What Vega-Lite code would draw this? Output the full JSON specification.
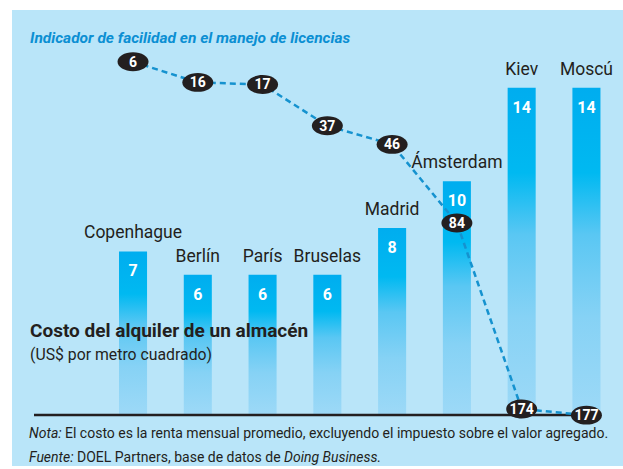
{
  "$schema": "https://vega.github.io/schema/vega-lite/v6.json",
  "autosize": "none",
  "width": 611,
  "height": 456,
  "padding": {"left": 12, "top": 10, "right": 0, "bottom": 3},
  "background": "white",
  "view": {"fill": "#b9e5f9", "stroke": null},
  "config": {"font": "Roboto"},
  "title": {
    "text": "Indicador de facilidad en el manejo de licencias",
    "anchor": "start",
    "frame": "group",
    "offset": -48.5,
    "dx": 18,
    "fontSize": 15.5,
    "fontStyle": "italic",
    "fontWeight": "bold",
    "color": "#0b8fd3",
    "baseline": "alphabetic"
  },
  "datasets": {
    "ciudades": [
      {"ciudad": "Copenhague", "costo": 7, "ranking": 6},
      {"ciudad": "Berlín", "costo": 6, "ranking": 16},
      {"ciudad": "París", "costo": 6, "ranking": 17},
      {"ciudad": "Bruselas", "costo": 6, "ranking": 37},
      {"ciudad": "Madrid", "costo": 8, "ranking": 46},
      {"ciudad": "Ámsterdam", "costo": 10, "ranking": 84},
      {"ciudad": "Kiev", "costo": 14, "ranking": 174},
      {"ciudad": "Moscú", "costo": 14, "ranking": 177}
    ]
  },
  "data": {"name": "ciudades"},
  "encoding": {
    "x": {
      "field": "ciudad",
      "type": "nominal",
      "sort": null,
      "scale": {"paddingInner": 0.567, "paddingOuter": 1.012, "align": 0.826},
      "axis": null
    }
  },
  "layer": [
    {
      "encoding": {
        "y": {
          "field": "costo",
          "type": "quantitative",
          "scale": {"domain": [-2.182, 17.33], "nice": false, "zero": false},
          "axis": null
        }
      },
      "layer": [
        {
          "mark": {
            "type": "bar",
            "color": {
              "gradient": "linear",
              "x1": 0, "y1": 0, "x2": 0, "y2": 1,
              "stops": [
                {"offset": 0, "color": "#00adef"},
                {"offset": 0.26, "color": "#00b9f1"},
                {"offset": 0.45, "color": "#5ac7f3"},
                {"offset": 0.7, "color": "#86d2f5"},
                {"offset": 1, "color": "#9dd9f7"}
              ]
            }
          },
          "encoding": {"y2": {"datum": 0}}
        },
        {
          "mark": {"type": "text", "baseline": "alphabetic", "dy": -13, "fontSize": 17.5, "color": "#231f20"},
          "encoding": {"text": {"field": "ciudad"}}
        },
        {
          "mark": {"type": "text", "baseline": "alphabetic", "dy": 25, "fontSize": 16, "fontWeight": "bold", "color": "white"},
          "encoding": {"text": {"field": "costo"}}
        },
        {
          "transform": [{"filter": "datum.ciudad === 'Copenhague'"}],
          "layer": [
            {
              "mark": {"type": "rule", "xOffset": 22, "x2Offset": -23, "strokeWidth": 2.5, "color": "#231f20"},
              "encoding": {"x": {"value": 0}, "x2": {"value": "width"}, "y": {"datum": 0, "type": "quantitative"}}
            },
            {
              "mark": {"type": "text", "align": "left", "baseline": "alphabetic", "dx": -103, "fontSize": 19, "fontWeight": "bold", "color": "#231f20", "text": "Costo del alquiler de un almacén"},
              "encoding": {"y": {"datum": 3.338, "type": "quantitative"}}
            },
            {
              "mark": {"type": "text", "align": "left", "baseline": "alphabetic", "dx": -103, "fontSize": 15.8, "color": "#231f20", "text": "(US$ por metro cuadrado)"},
              "encoding": {"y": {"datum": 2.353, "type": "quantitative"}}
            },
            {
              "mark": {"type": "text", "align": "left", "baseline": "alphabetic", "dx": -104, "fontSize": 14, "fontStyle": "italic", "color": "#231f20", "text": "Nota:"},
              "encoding": {"y": {"datum": -0.963, "type": "quantitative"}}
            },
            {
              "mark": {"type": "text", "align": "left", "baseline": "alphabetic", "dx": -68, "fontSize": 14, "color": "#231f20", "text": "El costo es la renta mensual promedio, excluyendo el impuesto sobre el valor agregado."},
              "encoding": {"y": {"datum": -0.963, "type": "quantitative"}}
            },
            {
              "mark": {"type": "text", "align": "left", "baseline": "alphabetic", "dx": -104, "fontSize": 14, "fontStyle": "italic", "color": "#231f20", "text": "Fuente:"},
              "encoding": {"y": {"datum": -2.011, "type": "quantitative"}}
            },
            {
              "mark": {"type": "text", "align": "left", "baseline": "alphabetic", "dx": -56, "fontSize": 14, "color": "#231f20", "text": "DOEL Partners, base de datos de"},
              "encoding": {"y": {"datum": -2.011, "type": "quantitative"}}
            },
            {
              "mark": {"type": "text", "align": "left", "baseline": "alphabetic", "dx": 151, "fontSize": 14, "fontStyle": "italic", "color": "#231f20", "text": "Doing Business."},
              "encoding": {"y": {"datum": -2.011, "type": "quantitative"}}
            }
          ]
        }
      ]
    },
    {
      "encoding": {
        "y": {
          "field": "ranking",
          "type": "quantitative",
          "scale": {"domain": [-19.04, 201.6], "reverse": true, "nice": false, "zero": false},
          "axis": null
        }
      },
      "layer": [
        {
          "mark": {"type": "line", "strokeDash": [6, 4], "strokeWidth": 2.5, "color": "#1592cf"}
        },
        {
          "mark": {
            "type": "point",
            "shape": "M-1,0C-1,-0.337,-0.552,-0.61,0,-0.61C0.552,-0.61,1,-0.337,1,0C1,0.337,0.552,0.61,0,0.61C-0.552,0.61,-1,0.337,-1,0Z",
            "filled": true,
            "size": 961,
            "opacity": 1,
            "strokeWidth": 0,
            "color": "#231f20"
          }
        },
        {
          "mark": {"type": "text", "baseline": "middle", "dy": 1, "fontSize": 14, "fontWeight": "bold", "color": "white"},
          "encoding": {"text": {"field": "ranking"}}
        }
      ]
    }
  ],
  "resolve": {"scale": {"y": "independent"}}
}
